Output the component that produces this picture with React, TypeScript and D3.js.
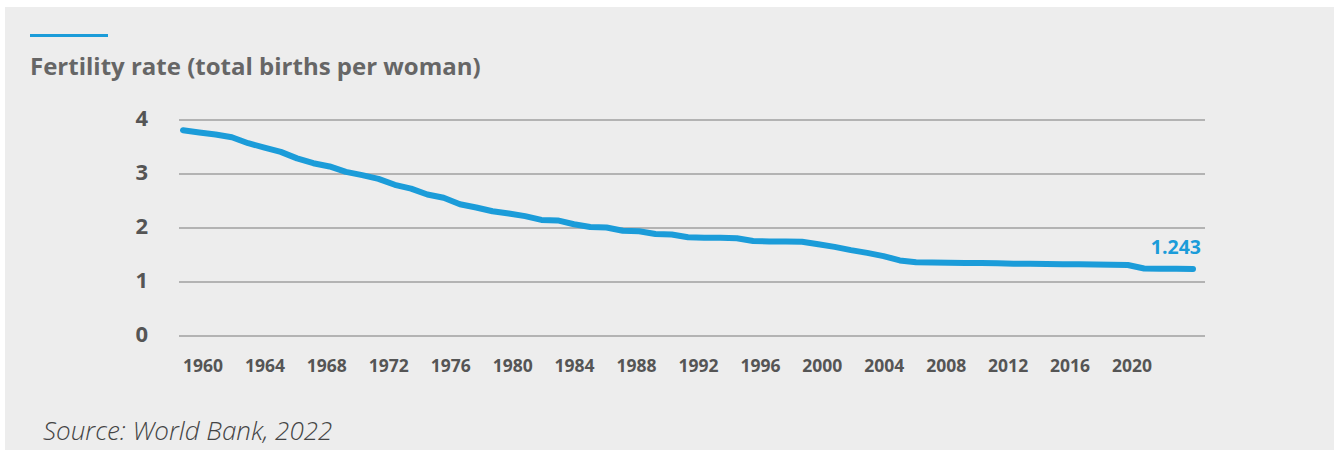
import React from "react";
import * as d3 from "d3";

// Fertility rate, total births per woman, 1960–2022
const years: number[] = d3.range(1960, 2023);
const fertility: number[] = [
  3.81, 3.77, 3.73, 3.68, 3.57, 3.49, 3.41, 3.29, 3.2, 3.14,
  3.04, 2.98, 2.91, 2.8, 2.73, 2.62, 2.56, 2.44, 2.38, 2.31,
  2.27, 2.22, 2.15, 2.14, 2.07, 2.02, 2.01, 1.95, 1.94, 1.89,
  1.88, 1.83, 1.82, 1.82, 1.81, 1.76, 1.75, 1.75, 1.745, 1.7,
  1.65, 1.59, 1.54, 1.48, 1.4, 1.365, 1.36, 1.355, 1.35, 1.35,
  1.345, 1.34, 1.34, 1.335, 1.33, 1.33, 1.325, 1.32, 1.315, 1.25,
  1.247, 1.245, 1.243,
];
const yTicks: number[] = [0, 1, 2, 3, 4];
const xTickYears: number[] = d3.range(1960, 2021, 4);

const W = 1334;
const H = 453;
const BLUE = "#1b9cd9";
const FONT = "'Open Sans', sans-serif";

export default function App() {
  const x = d3.scaleLinear().domain([1960, 2022]).range([183, 1193]);
  const xLabel = d3.scaleLinear().domain([1960, 2020]).range([203, 1132]);
  const y = d3.scaleLinear().domain([0, 4]).range([336, 120]);

  const line = d3
    .line<number>()
    .x((_, i) => x(years[i]))
    .y((d) => y(d));

  const last = fertility[fertility.length - 1];

  return (
    <svg
      width={W}
      height={H}
      style={{ position: "absolute", left: 0, top: 0, display: "block" }}
    >
      <rect x={0} y={0} width={W} height={H} fill="#ffffff" />
      <rect x={5} y={7} width={W - 5} height={443} fill="#ededed" />

      <line x1={30} x2={108} y1={35.5} y2={35.5} stroke={BLUE} strokeWidth={3} />
      <text
        x={30}
        y={75}
        fontFamily={FONT}
        fontWeight={700}
        fontSize={24}
        fill="#666666"
      >
        Fertility rate (total births per woman)
      </text>

      {yTicks.map((t) => (
        <g key={t}>
          <line
            x1={179}
            x2={1205}
            y1={y(t)}
            y2={y(t)}
            stroke="#b3b3b3"
            strokeWidth={2}
          />
          <text
            x={148}
            y={y(t) + 6}
            textAnchor="end"
            fontFamily={FONT}
            fontWeight={700}
            fontSize={22}
            fill="#555555"
          >
            {t}
          </text>
        </g>
      ))}

      {xTickYears.map((yr) => (
        <text
          key={yr}
          x={xLabel(yr)}
          y={372}
          textAnchor="middle"
          fontFamily={FONT}
          fontWeight={700}
          fontSize={17.5}
          fill="#555555"
        >
          {yr}
        </text>
      ))}

      <path
        d={line(fertility) ?? ""}
        fill="none"
        stroke={BLUE}
        strokeWidth={6}
        strokeLinecap="round"
        strokeLinejoin="round"
      />

      <text
        x={1201}
        y={y(last) - 15}
        textAnchor="end"
        fontFamily={FONT}
        fontWeight={700}
        fontSize={19.5}
        fill={BLUE}
      >
        {last.toFixed(3)}
      </text>

      <text
        x={43}
        y={440}
        fontFamily={FONT}
        fontStyle="italic"
        fontWeight={300}
        fontSize={26}
        fill="#444444"
      >
        Source: World Bank, 2022
      </text>
    </svg>
  );
}
